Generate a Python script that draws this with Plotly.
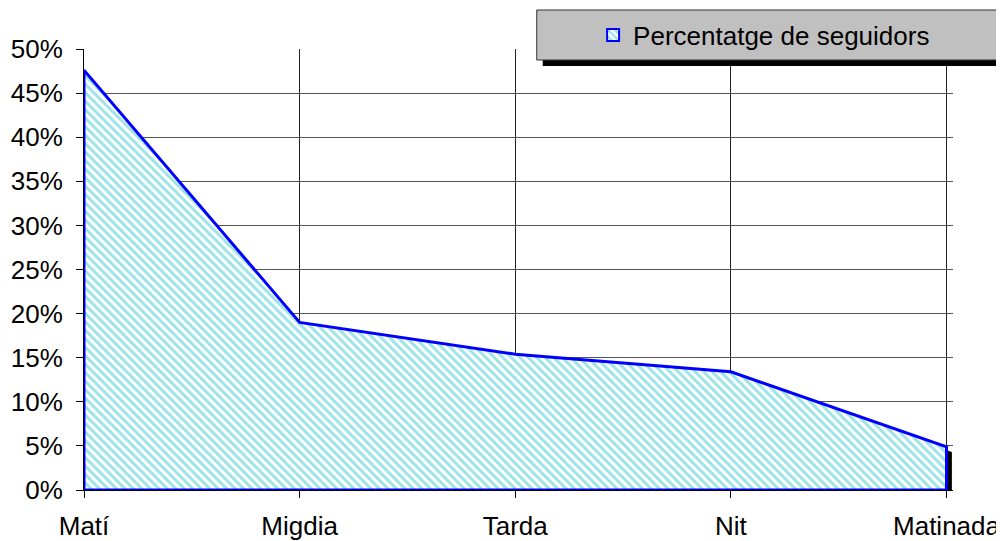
import plotly.graph_objects as go

categories = ["Matí", "Migdia", "Tarda", "Nit", "Matinada"]
values = [0.476, 0.190, 0.154, 0.134, 0.049]
series_name = "Percentatge de seguidors"
y_ticks = [0, 0.05, 0.10, 0.15, 0.20, 0.25, 0.30, 0.35, 0.40, 0.45, 0.50]

OFF = 8  # page body margin
W, H = 1004 - OFF, 541 - OFF
L, R, T, B = 84 - OFF, 953.5 - OFF, 49 - OFF, 490 - OFF
FONT = "Liberation Sans, Arial, sans-serif"
FS = 26

n = len(categories)
xi = list(range(n))
x_max = (n - 1) * (R - L) / (947 - OFF - L)

# closed polygon so the outline surrounds the area
poly_x = [xi[0]] + xi + [xi[-1], xi[0]]
poly_y = [0] + values + [0, 0]

# shadow (offset right/down)
dx = 0.025
dy = 0.006
sh_x = [x + dx for x in poly_x]
sh_y = [max(v - dy, 0) for v in poly_y]

pattern = dict(shape="\\", fgcolor="#3cc8cc", bgcolor="white", size=6, solidity=0.5)

fig = go.Figure()
fig.add_trace(go.Scatter(
    x=sh_x, y=sh_y, fill="toself", mode="lines",
    fillcolor="black", line=dict(color="black", width=0),
    showlegend=False, hoverinfo="skip"))
fig.add_trace(go.Scatter(
    x=poly_x, y=poly_y, fill="toself", mode="lines", name=series_name,
    fillcolor="white", fillpattern=pattern,
    line=dict(color="#0000ff", width=3), showlegend=False))
# legend entry (box swatch)
fig.add_trace(go.Bar(
    x=[None], y=[None], name=series_name,
    marker=dict(color="white", pattern=pattern, line=dict(color="#0000ff", width=2)),
    showlegend=True, hoverinfo="skip"))

def px(x):
    return (x - OFF - L) / (R - L)

def py(y):
    return (B - (y - OFF)) / (B - T)

shapes = [
    dict(type="rect", xref="paper", yref="paper",
         x0=px(543), x1=px(1004), y0=py(66), y1=py(16),
         fillcolor="black", line=dict(width=0), layer="above"),
    dict(type="rect", xref="paper", yref="paper",
         x0=px(537), x1=px(1000), y0=py(60), y1=py(10),
         fillcolor="#c0c0c0", line=dict(color="#333333", width=1), layer="above"),
]

fig.update_layout(
    width=W, height=H,
    margin=dict(l=L, r=W - R, t=T, b=H - B, autoexpand=False),
    paper_bgcolor="white", plot_bgcolor="white",
    font=dict(family=FONT, size=FS, color="black"),
    shapes=shapes,
    showlegend=True,
    legend=dict(x=px(764.5), y=py(35), xanchor="center", yanchor="middle",
                bgcolor="rgba(0,0,0,0)", borderwidth=0,
                font=dict(family=FONT, size=FS, color="black"),
                itemwidth=30),
    xaxis=dict(range=[0, x_max], tickmode="array", tickvals=xi, ticktext=categories,
               showgrid=True, gridcolor="#222222", gridwidth=1,
               showline=True, linecolor="black", linewidth=1,
               ticks="outside", ticklen=7, tickcolor="black", ticklabelstandoff=6,
               zeroline=False, fixedrange=True, automargin=False),
    yaxis=dict(range=[0, 0.5], tickmode="array", tickvals=y_ticks, tickformat=".0%",
               showgrid=True, gridcolor="#555555", gridwidth=1,
               showline=True, linecolor="black", linewidth=1,
               ticks="outside", ticklen=7, tickcolor="black", ticklabelstandoff=8,
               zeroline=False, fixedrange=True, automargin=False),
)

fig.write_html("out.html")
